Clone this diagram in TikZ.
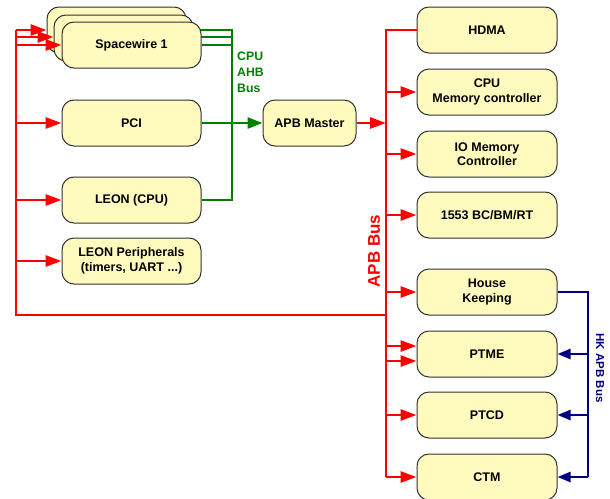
\documentclass[tikz,border=0pt]{standalone}
\usepackage{fontspec}
\setmainfont{Liberation Sans}
\usetikzlibrary{arrows.meta,backgrounds}
\definecolor{boxfill}{RGB}{255,250,190}
\definecolor{boxline}{RGB}{50,50,50}
\definecolor{busred}{RGB}{255,0,0}
\definecolor{busgreen}{RGB}{0,128,0}
\definecolor{busblue}{RGB}{0,0,128}
\begin{document}
\begin{tikzpicture}[x=1pt,y=-1pt,
  blk/.style={draw=boxline,line width=1pt,fill=boxfill,rounded corners=12pt,
    minimum width=139pt,minimum height=46pt,inner sep=0pt,align=center,
    font=\fontsize{12.5}{14.5}\selectfont\bfseries},
  rbus/.style={draw=busred,line width=2.8pt},
  rarr/.style={rbus,-{Triangle[length=16pt,width=11pt]}},
  gbus/.style={draw=busgreen,line width=2.8pt},
  garr/.style={gbus,-{Triangle[length=15pt,width=11pt]}},
  bbus/.style={draw=busblue,line width=2.4pt},
  barr/.style={bbus,-{Triangle[length=13pt,width=10pt]}},
]
\useasboundingbox (0,0) rectangle (610,498);
% left column
\node[blk] (sw3) at (116.5,30) {};
\node[blk] (sw2) at (123.5,38) {};
\node[blk] (sw1) at (131.5,45) {Spacewire 1};
\node[blk] (pci) at (131.5,123) {PCI};
\node[blk] (leon) at (131.5,200) {LEON (CPU)};
\node[blk] (leonp) at (131.5,261) {LEON Peripherals\\(timers, UART ...)};
% APB master
\node[blk,minimum width=93pt] (apbm) at (309.5,123) {APB Master};
% right column
\node[blk,minimum width=140pt] (hdma) at (487,30) {HDMA};
\node[blk,minimum width=140pt] (cpumem) at (487,92) {CPU\\Memory controller};
\node[blk,minimum width=140pt] (iomem) at (487,154) {IO Memory\\Controller};
\node[blk,minimum width=140pt] (m1553) at (487,215) {1553 BC/BM/RT};
\node[blk,minimum width=140pt] (hk) at (487,292) {House\\Keeping};
\node[blk,minimum width=140pt] (ptme) at (487,354) {PTME};
\node[blk,minimum width=140pt] (ptcd) at (487,415) {PTCD};
\node[blk,minimum width=140pt] (ctm) at (487,477) {CTM};

% bus corner coordinates
\coordinate (lt) at (16,30);
\coordinate (lb) at (16,315);
\coordinate (rt) at (386,30);
\coordinate (rb) at (386,477);
\coordinate (rj) at (386,315);
\coordinate (ra) at (386,123);
\coordinate (gt) at (232,30);
\coordinate (gb) at (232,200);

% green AHB bus (behind the boxes)
\begin{pgfonlayer}{background}
\draw[gbus] (sw3.east) -- (gt) -- (gb) -- (leon.east);
\draw[gbus] (sw2.east |- 0,37) -- (gt |- 0,37);
\draw[gbus] (sw1.east) -- (gt |- sw1.east);
\end{pgfonlayer}
\draw[garr] (pci.east) -- (apbm.west);
\node[font=\fontsize{12.3}{16}\selectfont\bfseries,text=busgreen,align=left,anchor=north west,inner sep=0pt]
  (ahb) at (237,52) {CPU\\AHB\\Bus};

% red left bus
\draw[rbus] (lt) -- (lb) -- (rj);
\draw[rarr] (lt) -- (sw3.west);
\draw[rarr] (lt |- 0,37) -- (sw2.west |- 0,37);
\draw[rarr] (lt |- sw1.west) -- (sw1.west);
\draw[rarr] (lt |- pci.west) -- (pci.west);
\draw[rarr] (lt |- leon.west) -- (leon.west);
\draw[rarr] (lt |- leonp.west) -- (leonp.west);

% red APB bus
\draw[rarr] (apbm.east) -- (ra);
\draw[rbus] (hdma.west) -- (rt) -- (rb);
\draw[rarr] (rb) -- (ctm.west);
\draw[rarr] (rt |- cpumem.west) -- (cpumem.west);
\draw[rarr] (rt |- iomem.west) -- (iomem.west);
\draw[rarr] (rt |- m1553.west) -- (m1553.west);
\draw[rarr] (rt |- hk.west) -- (hk.west);
\draw[rarr] (rt |- 0,346) -- (ptme.west |- 0,346);
\draw[rarr] (rt |- 0,361) -- (ptme.west |- 0,361);
\draw[rarr] (rt |- ptcd.west) -- (ptcd.west);
\node[rotate=90,font=\fontsize{17}{20}\selectfont\bfseries,text=busred,inner sep=0pt]
  (apblabel) at (374,251) {APB Bus};

% blue HK APB bus
\coordinate (bt) at (588,292);
\coordinate (bb) at (588,477);
\draw[bbus] (hk.east) -- (bt) -- (bb);
\draw[barr] (bb) -- (ctm.east);
\draw[barr] (bt |- ptme.east) -- (ptme.east);
\draw[barr] (bt |- ptcd.east) -- (ptcd.east);
\node[rotate=-90,font=\fontsize{11.5}{14}\selectfont\bfseries,text=busblue,inner sep=0pt]
  (hklabel) at (600,368) {HK APB Bus};
\end{tikzpicture}
\end{document}
